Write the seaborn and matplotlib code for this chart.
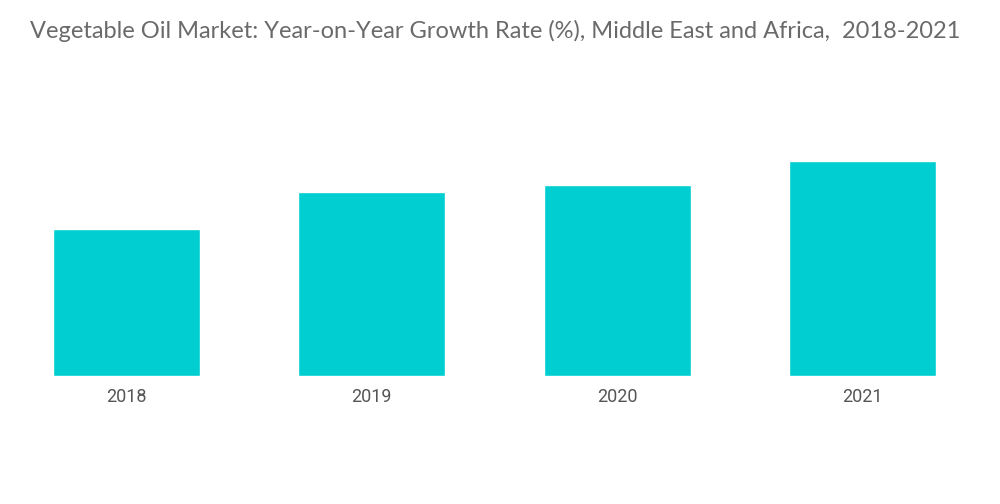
import numpy as np
import pandas as pd
import matplotlib
matplotlib.use('Agg')
import matplotlib.pyplot as plt
import seaborn as sns

## ============================================================= ##

years = ['2018', '2019', '2020', '2021']
growth = [2.94, 3.68, 3.82, 4.30]

title = 'Vegetable Oil Market: Year-on-Year Growth Rate (%), Middle East and Africa,  2018-2021'

## ============================================================= ##

sns.set_style('white')
plt.rcParams['font.family'] = ['Lato', 'DejaVu Sans']

df = pd.DataFrame({'year': years, 'growth': growth})

fig = plt.figure(figsize=(10, 5.04), dpi=100)
ax = fig.add_axes([0.004, 1 - 376 / 504, 0.981, (376 - 110) / 504])
sns.barplot(data=df, x='year', y='growth', color='#00CED1', saturation=1,
            width=0.6, ax=ax)
ax.set_xlim(-0.5, 3.5)
ax.set_ylim(0, 5.31)
ax.set_xlabel(None)
ax.set_ylabel(None)
ax.set_yticks([])
for s in ax.spines.values():
    s.set_visible(False)
ax.tick_params(axis='x', length=0, pad=9, labelsize=13, labelcolor='#555555')
for lab in ax.get_xticklabels():
    lab.set_family('Roboto')

fig.text(0.03, 1 - 31 / 504, title, fontsize=17, color='#6a6a6a',
         ha='left', va='center', fontweight='normal')

fig.savefig('out.png', dpi=100)
